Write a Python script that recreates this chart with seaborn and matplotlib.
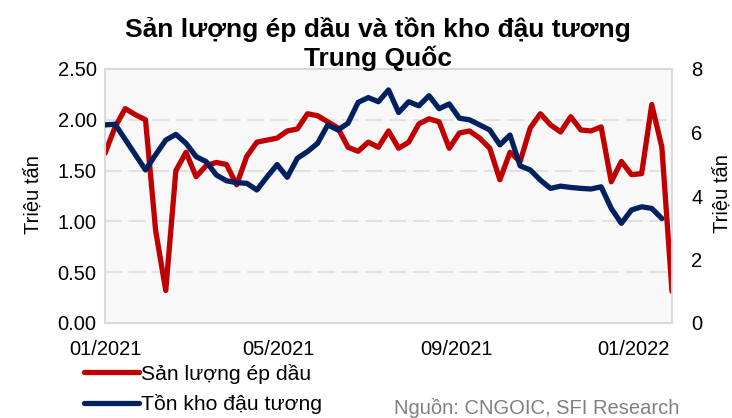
import numpy as np
import pandas as pd
import matplotlib
matplotlib.use("Agg")
from matplotlib import pyplot as plt
from matplotlib.lines import Line2D
import matplotlib.dates as mdates
import seaborn as sns

# Weekly data, 01/2021 - 01/2022
san_luong = [1.67, 1.93, 2.11, 2.05, 2.00, 0.91, 0.32, 1.50, 1.68, 1.44,
             1.55, 1.58, 1.56, 1.36, 1.64, 1.78, 1.80, 1.82, 1.89, 1.91,
             2.06, 2.04, 1.98, 1.92, 1.73, 1.69, 1.78, 1.73, 1.89, 1.72,
             1.78, 1.96, 2.01, 1.98, 1.72, 1.87, 1.89, 1.82, 1.72, 1.41,
             1.68, 1.59, 1.92, 2.06, 1.95, 1.88, 2.03, 1.90, 1.89, 1.93,
             1.39, 1.59, 1.46, 1.47, 2.15, 1.73, 0.31]
ton_kho = [6.24, 6.26, 5.78, 5.30, 4.82, 5.30, 5.76, 5.94, 5.66, 5.24,
           5.08, 4.66, 4.48, 4.42, 4.40, 4.19, 4.60, 4.99, 4.59, 5.19,
           5.40, 5.66, 6.24, 6.08, 6.29, 6.95, 7.10, 6.97, 7.34, 6.63,
           6.97, 6.84, 7.16, 6.75, 6.90, 6.45, 6.40, 6.24, 6.08, 5.61,
           5.92, 4.95, 4.82, 4.50, 4.24, 4.31, 4.27, 4.24, 4.22, 4.29,
           3.61, 3.14, 3.56, 3.66, 3.61, 3.29, np.nan]
ngay = pd.date_range("2021-01-01", periods=len(san_luong), freq="7D")
x_ticks = pd.to_datetime(["2021-01-01", "2021-05-01", "2021-09-01", "2022-01-01"])

df = pd.DataFrame({"ngay": ngay, "san_luong": san_luong, "ton_kho": ton_kho})

sns.set_theme(style="white")
plt.rcParams["font.family"] = ["Liberation Sans", "DejaVu Sans"]
plt.rcParams["text.color"] = "black"

do = "#C00000"
xanh = "#002060"
xam = "#D9D9D9"
fs = 14.5

fig = plt.figure(figsize=(7.32, 4.18), dpi=100)
ax = fig.add_axes([105/732, 1-323/418, 567/732, 254/418])
ax2 = ax.twinx()

sns.lineplot(data=df, x="ngay", y="san_luong", ax=ax, color=do, lw=3.8)
sns.lineplot(data=df.dropna(), x="ngay", y="ton_kho", ax=ax2, color=xanh, lw=3.8)

ax.set_facecolor("#F8F8F8")
ax.set_xlim(ngay[0], ngay[-1])
ax.set_ylim(0, 2.5)
ax2.set_ylim(0, 8)
ax.set_yticks(np.arange(0, 2.51, 0.5))
ax.set_yticklabels([f"{v:.2f}" for v in np.arange(0, 2.51, 0.5)])
ax2.set_yticks([0, 2, 4, 6, 8])
ax.set_xticks(x_ticks)
ax.xaxis.set_major_formatter(mdates.DateFormatter("%m/%Y"))
ax.tick_params(axis="y", length=0, pad=6, labelsize=fs, colors="black")
ax.tick_params(axis="x", length=0, pad=12, labelsize=fs, colors="black")
ax2.tick_params(axis="y", length=0, pad=14, labelsize=fs, colors="black")
ax.set_xlabel("")
ax.set_ylabel("")
ax2.set_ylabel("")

ax.grid(False)
ax2.grid(False)
for v in [0.5, 1.0, 1.5, 2.0]:
  ax.axhline(v, color=xam, lw=1.1, ls=(0, (11, 4.5)), zorder=0.5)

for sp in ax.spines.values():
  sp.set_color(xam)
  sp.set_linewidth(1.5)
for sp in ax2.spines.values():
  sp.set_visible(False)

fig.text(378/732, 1-30/418, "Sản lượng ép dầu và tồn kho đậu tương",
         ha="center", va="center", fontsize=19, fontweight="bold", color="black")
fig.text(378/732, 1-58/418, "Trung Quốc",
         ha="center", va="center", fontsize=19, fontweight="bold", color="black")
fig.text(33/732, 1-195/418, "Triệu tấn", rotation=90, ha="center",
         va="center", fontsize=fs, color="black")
fig.text(722/732, 1-194/418, "Triệu tấn", rotation=90, ha="center",
         va="center", fontsize=fs, color="black")

handles = [Line2D([], [], color=do, lw=3.8), Line2D([], [], color=xanh, lw=3.8)]
fig.legend(handles, ["Sản lượng ép dầu", "Tồn kho đậu tương"],
           loc="center left", bbox_to_anchor=(84/732, 1-389/418),
           frameon=False, fontsize=15.2, handlelength=2.6, handletextpad=0.1,
           borderpad=0, borderaxespad=0, labelspacing=0.5, labelcolor="black")
fig.text(679/732, 1-408/418, "Nguồn: CNGOIC, SFI Research", ha="right",
         va="center", fontsize=fs, color="#808080")

fig.savefig("out.png", dpi=100)
